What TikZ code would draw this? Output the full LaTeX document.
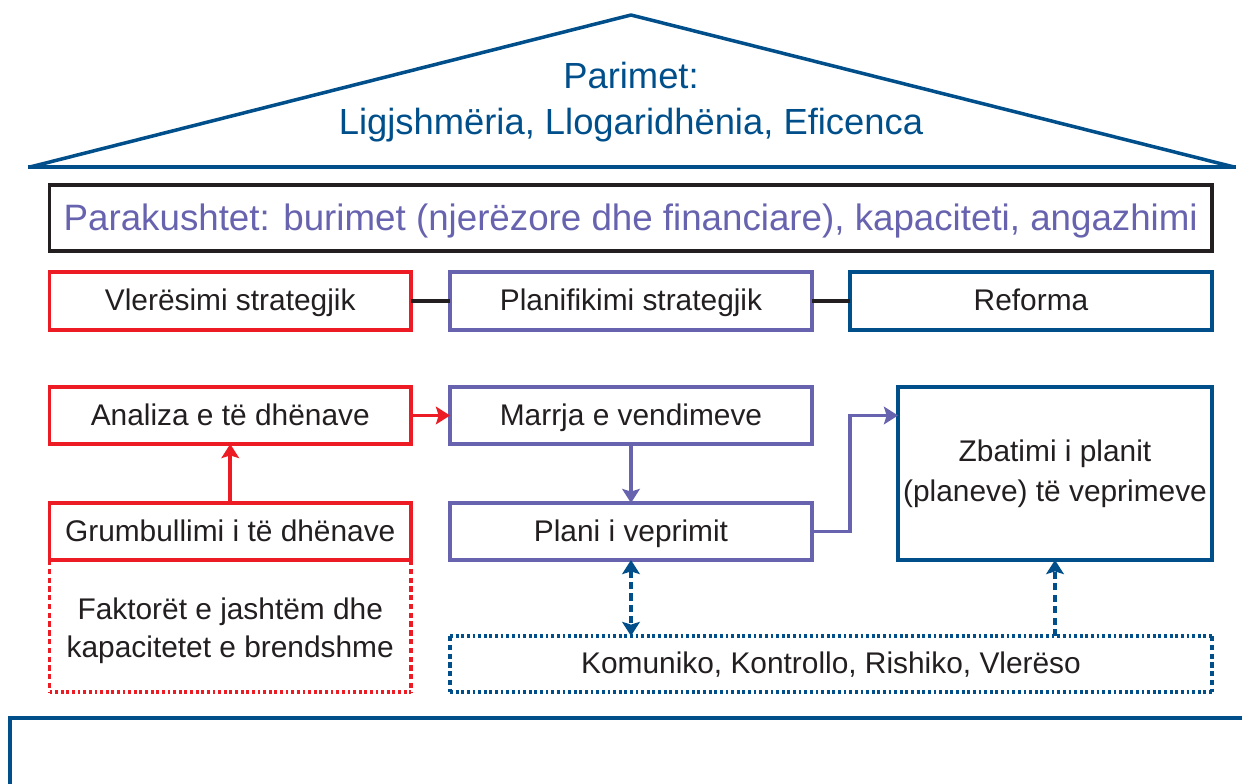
\documentclass[tikz,border=0pt]{standalone}
\usepackage{fontspec}
\setmainfont{Liberation Sans}
\usetikzlibrary{arrows.meta}

\definecolor{pred}{HTML}{ED1C24}
\definecolor{ppurple}{HTML}{6763AF}
\definecolor{pblue}{HTML}{004F8B}
\definecolor{ptext}{HTML}{231F20}

\begin{document}
\begin{tikzpicture}[
    x=0.02cm, y=-0.02cm,
    every node/.style={rectangle, inner sep=0pt, outer sep=0pt, text=ptext,
        font=\fontsize{17}{21}\selectfont},
    box/.style={draw, line width=2pt, minimum width=7.24cm, minimum height=1.14cm,
        text height=12.2pt, text depth=1pt},
    redbox/.style={box, draw=pred},
    purplebox/.style={box, draw=ppurple},
    bluebox/.style={box, draw=pblue},
    sidedash/.style={line width=2pt, dash pattern=on 3pt off 2pt},
    dotdash/.style={line width=2pt, dash pattern=on 1.6pt off 1.6pt},
    flow/.style={line width=2pt, -{Stealth[length=8pt, width=10pt, inset=1.5pt]}},
    linkdash/.style={line width=2pt, pblue, dash pattern=on 4pt off 2.5pt}
]

\useasboundingbox (0,0) rectangle (1242,784);

% ================= Roof =================

\draw[pblue, line width=2pt, line join=round] (30,167) -- (631,15) -- (1234,167);
\draw[pblue, line width=2.8pt] (28,167) -- (1236,167);

\node[text=pblue, align=center, font=\fontsize{20.7}{26}\selectfont] (parimet) at (631,102)
    {Parimet:\\Ligjshmëria, Llogaridhënia, Eficenca};

% ================= Preconditions =================

\node[box, draw=ptext, minimum width=23.25cm, minimum height=1.32cm,
      text height=15pt, text depth=1pt,
      text=ppurple, font=\fontsize{20.9}{25}\selectfont] (parakushtet) at (630.75,218)
    {Parakushtet: burimet (njerëzore dhe financiare), kapaciteti, angazhimi};

% ================= Phases =================

\node[redbox, minimum width=7.23cm, minimum height=1.16cm] (vleresimi) at (230.25,301) {Vlerësimi strategjik};
\node[purplebox, minimum height=1.16cm] (planifikimi) at (631,301) {Planifikimi strategjik};
\node[bluebox, minimum height=1.16cm] (reforma) at (1031,301) {Reforma};

\draw[ptext, line width=2.4pt] (vleresimi) -- (planifikimi);
\draw[ptext, line width=2.4pt] (planifikimi) -- (reforma);

% ================= Process =================

\node[redbox, minimum width=7.23cm] (analiza) at (230.25,415.5) {Analiza e të dhënave};
\node[redbox, minimum width=7.23cm] (grumbullimi) at (230.25,531.5) {Grumbullimi i të dhënave};
\node[purplebox] (marrja) at (631,415.5) {Marrja e vendimeve};
\node[purplebox] (plani) at (631,531.5) {Plani i veprimit};
\node[bluebox, minimum width=6.28cm, minimum height=3.46cm, align=center,
      text height=, text depth=,
      font=\fontsize{17}{22.7}\selectfont] (zbatimi) at (1055,473.5)
    {Zbatimi i planit\\(planeve) të veprimeve};

\node[minimum width=7.23cm, minimum height=2.44cm, align=center,
      font=\fontsize{17}{21.5}\selectfont] (faktoret) at (230.25,631)
    {Faktorët e jashtëm dhe\\kapacitetet e brendshme};
\node[minimum width=15.24cm, minimum height=1.12cm, text height=12.2pt, text depth=1pt] (komuniko) at (831,664)
    {Komuniko, Kontrollo, Rishiko, Vlerëso};

% dashed and dotted outlines
\draw[pred, sidedash] (grumbullimi.south west) -- (faktoret.south west);
\draw[pred, sidedash] (grumbullimi.south east) -- (faktoret.south east);
\draw[pred, dotdash] (faktoret.south west) -- (faktoret.south east);

\draw[pblue, sidedash] (komuniko.north west) -- (komuniko.south west);
\draw[pblue, sidedash] (komuniko.north east) -- (komuniko.south east);
\draw[pblue, dotdash] (komuniko.north west) -- (komuniko.north east);
\draw[pblue, dotdash] (komuniko.south west) -- (komuniko.south east);

% arrows
\draw[flow, pred] (grumbullimi) -- (analiza);
\draw[flow, pred] (analiza) -- (marrja);
\draw[flow, ppurple] (marrja) -- (plani);
\draw[flow, ppurple] (plani.east) -- ++(38,0) |- (zbatimi.west |- marrja.east);

\draw[linkdash, {Stealth[length=8pt, width=10pt, inset=1.5pt]}-{Stealth[length=8pt, width=10pt, inset=1.5pt]}]
    (plani.south) -- (plani.south |- komuniko.north);
\draw[linkdash, -{Stealth[length=8pt, width=10pt, inset=1.5pt]}]
    (komuniko.north -| zbatimi.south) -- (zbatimi.south);

% ================= Base =================

\draw[pblue, line width=2.2pt] (10,800) |- (1260,718);

\end{tikzpicture}
\end{document}
